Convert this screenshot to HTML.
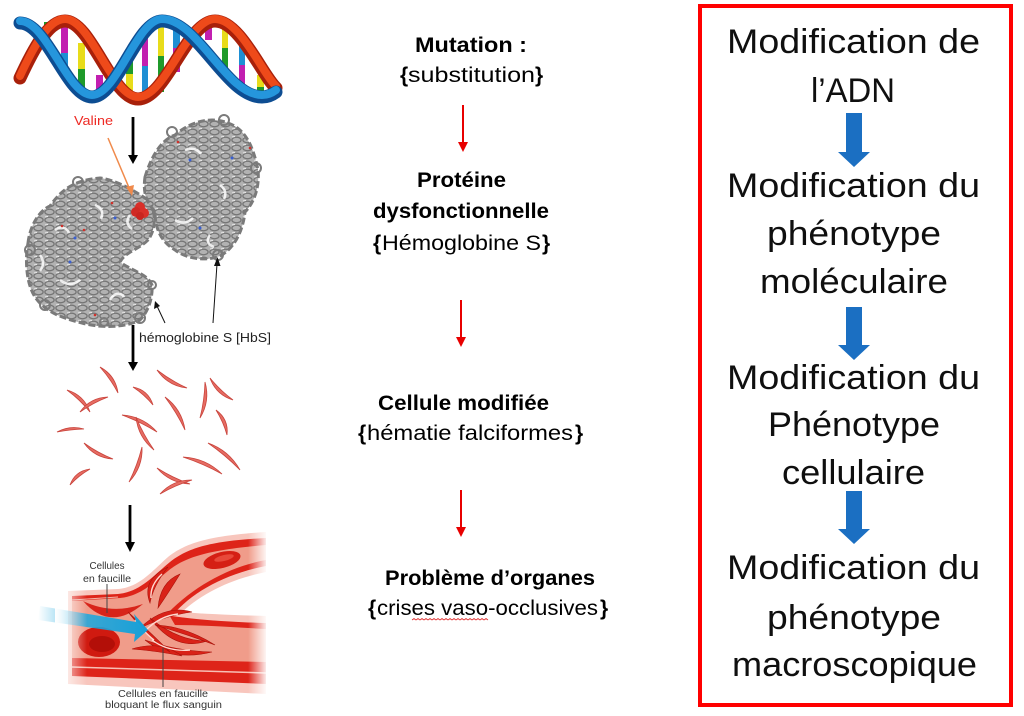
<!DOCTYPE html>
<html><head><meta charset="utf-8"><style>
html,body{margin:0;padding:0;background:#fff;}
svg{display:block;}
text{font-family:"Liberation Sans",Arial,sans-serif;}
</style></head><body>
<svg width="1024" height="716" viewBox="0 0 1024 716" xmlns="http://www.w3.org/2000/svg">
<defs>
<pattern id="rib" width="11" height="8" patternUnits="userSpaceOnUse">
<rect width="11" height="8" fill="#b2b2b2"/>
<ellipse cx="5.5" cy="4" rx="4.6" ry="2.8" fill="none" stroke="#757575" stroke-width="1.3"/>
<path d="M1,1 L4,0.5" stroke="#ececec" stroke-width="1"/>
</pattern>
<linearGradient id="blueg" x1="38" y1="0" x2="148" y2="0" gradientUnits="userSpaceOnUse">
<stop offset="0" stop-color="#1aa8df" stop-opacity="0"/>
<stop offset="0.45" stop-color="#1aa8df" stop-opacity="0.85"/>
<stop offset="1" stop-color="#159fd8"/>
</linearGradient>
<linearGradient id="fadeL" x1="0" y1="0" x2="1" y2="0">
<stop offset="0" stop-color="#fff" stop-opacity="1"/>
<stop offset="1" stop-color="#fff" stop-opacity="0"/>
</linearGradient>
<linearGradient id="fadeR" x1="0" y1="0" x2="1" y2="0">
<stop offset="0" stop-color="#fff" stop-opacity="0"/>
<stop offset="1" stop-color="#fff" stop-opacity="1"/>
</linearGradient>
</defs>

<rect width="1024" height="716" fill="#fff"/>

<!-- ============ DNA ============ -->
<g>
<rect x="44" y="22" width="6" height="14" fill="#1f9a2a"/><rect x="44" y="36" width="6" height="11" fill="#e8dc1a"/>
<rect x="61" y="25" width="7" height="28" fill="#c21fb0"/><rect x="61" y="53" width="7" height="22" fill="#1e8fd4"/>
<rect x="78" y="43" width="7" height="26" fill="#e8dc1a"/><rect x="78" y="69" width="7" height="26" fill="#1f9a2a"/>
<rect x="96" y="75" width="7" height="20" fill="#c21fb0"/>
<rect x="126" y="52" width="7" height="22" fill="#1f9a2a"/><rect x="126" y="74" width="7" height="18" fill="#e8dc1a"/>
<rect x="142" y="32" width="6" height="34" fill="#c21fb0"/><rect x="142" y="66" width="6" height="32" fill="#1e8fd4"/>
<rect x="158" y="20" width="6" height="36" fill="#e8dc1a"/><rect x="158" y="56" width="6" height="36" fill="#1f9a2a"/>
<rect x="173" y="28" width="7" height="20" fill="#1e8fd4"/><rect x="173" y="48" width="7" height="24" fill="#c21fb0"/>
<rect x="205" y="20" width="7" height="20" fill="#c21fb0"/>
<rect x="222" y="22" width="6" height="26" fill="#e8dc1a"/><rect x="222" y="48" width="6" height="24" fill="#1f9a2a"/>
<rect x="239" y="43" width="6" height="22" fill="#1e8fd4"/><rect x="239" y="65" width="6" height="25" fill="#c21fb0"/>
<rect x="257" y="75" width="7" height="12" fill="#e8dc1a"/><rect x="257" y="87" width="7" height="8" fill="#1f9a2a"/>
<path d="M20,78 C33,50 48,21 65,21 C91,21 112,99 138,99 C166,99 187,21 215,21 C240,21 262,75 276,88" fill="none" stroke="#a8200a" stroke-width="13" stroke-linecap="round"/>
<path d="M20,76 C33,48 48,19 65,19 C91,19 112,97 138,97 C166,97 187,19 215,19 C240,19 262,73 276,86" fill="none" stroke="#ee4a1a" stroke-width="8" stroke-linecap="round"/>
<path d="M20,23 C47,23 67,97 92,97 C117,97 137,21 162,21 C198,21 226,97 262,97 C268,97 272,95 276,92" fill="none" stroke="#0d4d92" stroke-width="13" stroke-linecap="round"/>
<path d="M20,21 C47,21 67,95 92,95 C117,95 137,19 162,19 C198,19 226,95 262,95 C268,95 272,93 276,90" fill="none" stroke="#2596dc" stroke-width="8" stroke-linecap="round"/>
</g>

<!-- ============ Protein ============ -->
<text x="74" y="125" font-size="12.5" fill="#ee2a24" textLength="39" lengthAdjust="spacingAndGlyphs">Valine</text>
<g>
<path d="M28,243 C30,225 40,210 50,206 C60,192 72,180 100,178 C115,180 130,188 148,200 C156,210 157,228 148,240 C138,250 125,252 120,262 C130,270 148,274 152,285 C153,298 148,312 140,320 C125,328 100,328 82,323 C62,318 45,312 35,297 C26,283 25,260 28,243 Z" fill="url(#rib)" stroke="#7a7a7a" stroke-width="3" stroke-dasharray="7 3"/>
<path d="M145,177 C150,160 160,140 175,135 C190,122 210,116 228,123 C242,128 252,140 258,170 C260,190 252,205 245,212 C243,230 235,248 220,256 C205,262 185,258 175,250 C162,242 155,230 155,212 C150,205 142,198 145,177 Z" fill="url(#rib)" stroke="#7a7a7a" stroke-width="3" stroke-dasharray="7 3"/>
<g fill="none" stroke="#fff" stroke-width="2.5" opacity="0.85">
<path d="M55,230 q8,-6 14,2"/><path d="M95,205 q10,4 6,14"/><path d="M60,280 q10,8 20,0"/><path d="M110,300 q6,-10 14,-4"/>
<path d="M185,150 q10,-4 16,4"/><path d="M220,185 q8,6 4,14"/><path d="M175,220 q10,6 18,-2"/><path d="M210,235 q-6,8 4,12"/>
<path d="M40,255 q6,8 0,16"/><path d="M130,215 q-6,8 2,14"/>
</g>
<g fill="none" stroke="#7b7b7b" stroke-width="2">
<circle cx="30" cy="250" r="5"/><circle cx="45" cy="305" r="5"/><circle cx="140" cy="318" r="5"/><circle cx="152" cy="285" r="4"/>
<circle cx="172" cy="132" r="5"/><circle cx="224" cy="120" r="5"/><circle cx="256" cy="168" r="5"/><circle cx="218" cy="255" r="5"/>
<circle cx="78" cy="182" r="5"/><circle cx="104" cy="322" r="4"/>
</g>
<g fill="#3a5fd0"><circle cx="75" cy="238" r="1.5"/><circle cx="70" cy="262" r="1.5"/><circle cx="190" cy="160" r="1.5"/><circle cx="232" cy="158" r="1.5"/><circle cx="200" cy="228" r="1.5"/><circle cx="115" cy="218" r="1.5"/></g>
<g fill="#d0302a"><circle cx="62" cy="226" r="1.3"/><circle cx="84" cy="230" r="1.3"/><circle cx="178" cy="142" r="1.3"/><circle cx="250" cy="148" r="1.3"/><circle cx="95" cy="315" r="1.3"/><circle cx="112" cy="203" r="1.3"/></g>
<circle cx="140" cy="207" r="5" fill="#d9302a"/><circle cx="136" cy="212" r="5" fill="#d02a24"/><circle cx="144" cy="213" r="5" fill="#d9302a"/><circle cx="140" cy="216" r="4" fill="#c82520"/>
</g>
<!-- protein arrows -->
<line x1="108" y1="138" x2="130" y2="190" stroke="#f08a4b" stroke-width="1.5"/>
<polygon points="132,196 126,187 134,185" fill="#f08a4b"/>
<line x1="133" y1="117" x2="133" y2="157" stroke="#000" stroke-width="2.8"/>
<polygon points="128,155 138,155 133,164" fill="#000"/>
<line x1="165" y1="323" x2="157" y2="306" stroke="#111" stroke-width="1"/>
<polygon points="155,301 154,309 160,306" fill="#111"/>
<line x1="213" y1="323" x2="217" y2="264" stroke="#111" stroke-width="1"/>
<polygon points="217.5,257 214,266 220.5,266" fill="#111"/>
<text x="139" y="342" font-size="12.5" fill="#222" textLength="132" lengthAdjust="spacingAndGlyphs">hémoglobine S [HbS]</text>
<line x1="133" y1="325" x2="133" y2="364" stroke="#000" stroke-width="2.8"/>
<polygon points="128,362 138,362 133,371" fill="#000"/>

<!-- ============ Sickle cells ============ -->
<g fill="#e66c63" stroke="#c9443c" stroke-width="0.8">
<path d="M100,367 Q115.6,375.4 118,393 Q110.6,378.9 100,367 Z"/>
<path d="M67,390 Q84,395 90,412 Q79.9,399.6 67,390 Z"/>
<path d="M80,412 Q90.2,397.5 108,397 Q93.1,402.7 80,412 Z"/>
<path d="M133,387 Q148.4,390 153,405 Q144.3,394.5 133,387 Z"/>
<path d="M157,370 Q168,386 187,388 Q171,380.7 157,370 Z"/>
<path d="M165,397 Q181.9,409.3 185,430 Q176.7,412.5 165,397 Z"/>
<path d="M205,382 Q210.4,401 200,418 Q204.5,400.3 205,382 Z"/>
<path d="M210,378 Q216,394.8 233,400 Q220.1,390.4 210,378 Z"/>
<path d="M216,410 Q228.9,419.3 227,435 Q223.3,421.7 216,410 Z"/>
<path d="M57,432 Q70,425 84,429 Q70.4,429.5 57,432 Z"/>
<path d="M122,415 Q143,416.3 157,432 Q140.4,421.7 122,415 Z"/>
<path d="M136,417 Q138,437.3 154,450 Q143.2,434.5 136,417 Z"/>
<path d="M84,443 Q94.7,458 113,459 Q97.5,452.8 84,443 Z"/>
<path d="M142,447 Q143,467 129,482 Q137.4,465.2 142,447 Z"/>
<path d="M90,469 Q75,471 70,485 Q78.8,475.4 90,469 Z"/>
<path d="M157,468 Q170,483.2 190,484 Q172.6,477.8 157,468 Z"/>
<path d="M160,494 Q172.8,479.6 192,480 Q175.2,485.2 160,494 Z"/>
<path d="M183,457 Q205.7,458.1 222,474 Q203.3,463.7 183,457 Z"/>
<path d="M208,443 Q229,450.4 240,470 Q225.3,455 208,443 Z"/>
</g>
<line x1="130" y1="505" x2="130" y2="544" stroke="#000" stroke-width="2.8"/>
<polygon points="125,542 135,542 130,552" fill="#000"/>

<!-- ============ Vessel ============ -->
<g>
<path d="M68,591 L118,589 C140,587 152,571 168,557 C185,544 205,536 266,532 L266,694 L68,684 Z" fill="#f8c6bd"/>
<path d="M72,596 L118,594 C140,592 153,576 170,562 C187,549 207,541 266,538 L266,684 L72,676 Z" fill="#de2419"/>
<path d="M72,601 L120,598 C140,596 152,584 168,571 C184,558 205,550 266,545 L266,560 C232,566 195,585 168,613 L175,625 C200,625 230,627 266,629 L266,662 L72,658 Z" fill="#f09c8a"/>
<path d="M172,616 C192,592 225,574 266,566 L266,623 C230,622 198,620 172,616 Z" fill="#f7c4ba"/>
<path d="M182,612 C204,592 232,579 266,572 L266,616 C232,615 205,614 182,612 Z" fill="#fff"/>
<path d="M72,667 L266,673" stroke="#f7c0b5" stroke-width="1.5"/>
<path d="M72,600 L118,597" stroke="#f4b2a6" stroke-width="1"/>
<!-- cells -->
<ellipse cx="222" cy="560" rx="19" ry="8" transform="rotate(-14 222 560)" fill="#d51f14"/>
<ellipse cx="224" cy="558" rx="10" ry="3" transform="rotate(-14 224 558)" fill="#e8493a"/>
<path d="M83,601 Q110,632 143,604 Q112,615 83,601 Z" fill="#d8241a"/>
<ellipse cx="99" cy="642" rx="21" ry="15" fill="#d01a10"/>
<ellipse cx="102" cy="644" rx="13" ry="8" fill="#b30f08"/>
<g fill="#d92218" stroke="#a8120a" stroke-width="0.6">
<path d="M150,603 Q141,580 168,567 Q153,586 150,603 Z"/>
<path d="M158,608 Q160,582 180,574 Q169,592 158,608 Z"/>
<path d="M140,628 Q165,604 192,612 Q168,615 140,628 Z"/>
<path d="M150,618 Q175,652 207,641 Q178,641 150,618 Z"/>
<path d="M145,640 Q172,662 212,652 Q176,651 145,640 Z"/>
<path d="M132,649 Q160,640 182,656 Q158,651 132,649 Z"/>
<path d="M155,625 Q185,626 215,645 Q186,634 155,625 Z"/>
<path d="M128,612 Q150,640 170,652 Q150,632 128,612 Z"/>
</g>
<g stroke="#ffd9d0" stroke-width="1.4" fill="none">
<path d="M151,598 Q150,585 162,574"/><path d="M146,630 Q160,616 178,614"/><path d="M152,640 Q168,652 190,650"/><path d="M135,620 Q146,634 154,640"/>
</g>
<path d="M40,606 L136,622 L134,614 L148,630 L134,642 L135,634 L38,620 Z" fill="url(#blueg)"/>
<rect x="55" y="585" width="32" height="105" fill="url(#fadeL)"/>
<rect x="248" y="528" width="20" height="170" fill="url(#fadeR)"/>
<line x1="107" y1="584" x2="107" y2="613" stroke="#444" stroke-width="1"/>
<line x1="163" y1="648" x2="163" y2="687" stroke="#444" stroke-width="1"/>
<text x="107" y="569" font-size="10" fill="#333" text-anchor="middle" textLength="35" lengthAdjust="spacingAndGlyphs">Cellules</text>
<text x="107" y="582" font-size="10" fill="#333" text-anchor="middle" textLength="48" lengthAdjust="spacingAndGlyphs">en faucille</text>
<text x="118" y="697" font-size="10" fill="#333" textLength="90" lengthAdjust="spacingAndGlyphs">Cellules en faucille</text>
<text x="105" y="708" font-size="10" fill="#333" textLength="117" lengthAdjust="spacingAndGlyphs">bloquant le flux sanguin</text>
</g>

<!-- ============ Middle column ============ -->
<g fill="#000" font-size="21">
<text x="415" y="52" font-weight="bold" textLength="112" lengthAdjust="spacingAndGlyphs">Mutation :</text>
<text x="400" y="82" font-weight="bold">{</text>
<text x="408" y="82" textLength="127" lengthAdjust="spacingAndGlyphs">substitution</text>
<text x="535" y="82" font-weight="bold">}</text>

<text x="417" y="187" font-weight="bold" textLength="89" lengthAdjust="spacingAndGlyphs">Protéine</text>
<text x="373" y="218" font-weight="bold" textLength="176" lengthAdjust="spacingAndGlyphs">dysfonctionnelle</text>
<text x="373" y="250" font-weight="bold">{</text>
<text x="382" y="250" textLength="159" lengthAdjust="spacingAndGlyphs">Hémoglobine S</text>
<text x="542" y="250" font-weight="bold">}</text>

<text x="378" y="410" font-weight="bold" textLength="171" lengthAdjust="spacingAndGlyphs">Cellule modifiée</text>
<text x="358" y="440" font-weight="bold">{</text>
<text x="367" y="440" textLength="206" lengthAdjust="spacingAndGlyphs">hématie falciformes</text>
<text x="575" y="440" font-weight="bold">}</text>

<text x="385" y="585" font-weight="bold" textLength="210" lengthAdjust="spacingAndGlyphs">Problème d’organes</text>
<text x="368" y="615" font-weight="bold">{</text>
<text x="377" y="615" textLength="221" lengthAdjust="spacingAndGlyphs">crises vaso-occlusives</text>
<text x="600" y="615" font-weight="bold">}</text>
</g>
<path d="M412,620 l2,-1.5 l2,1.5 l2,-1.5 l2,1.5 l2,-1.5 l2,1.5 l2,-1.5 l2,1.5 l2,-1.5 l2,1.5 l2,-1.5 l2,1.5 l2,-1.5 l2,1.5 l2,-1.5 l2,1.5 l2,-1.5 l2,1.5 l2,-1.5 l2,1.5 l2,-1.5 l2,1.5 l2,-1.5 l2,1.5 l2,-1.5 l2,1.5 l2,-1.5 l2,1.5 l2,-1.5 l2,1.5 l2,-1.5 l2,1.5 l2,-1.5 l2,1.5 l2,-1.5 l2,1.5 l2,-1.5 l2,1.5" fill="none" stroke="#e03030" stroke-width="0.8"/>

<!-- red arrows -->
<g fill="#e80000" stroke="#e80000">
<line x1="463" y1="105" x2="463" y2="144" stroke-width="2"/>
<polygon points="458,142 468,142 463,152" stroke="none"/>
<line x1="461" y1="300" x2="461" y2="339" stroke-width="2"/>
<polygon points="456,337 466,337 461,347" stroke="none"/>
<line x1="461" y1="490" x2="461" y2="529" stroke-width="2"/>
<polygon points="456,527 466,527 461,537" stroke="none"/>
</g>

<!-- ============ Right box ============ -->
<rect x="700" y="6" width="311" height="699" fill="none" stroke="#ff0000" stroke-width="4"/>
<g fill="#0f0f0f" font-size="34">
<text x="727" y="53" textLength="253" lengthAdjust="spacingAndGlyphs">Modification de</text>
<text x="811" y="102" textLength="84" lengthAdjust="spacingAndGlyphs">l’ADN</text>
<text x="727" y="197" textLength="253" lengthAdjust="spacingAndGlyphs">Modification du</text>
<text x="767" y="245" textLength="174" lengthAdjust="spacingAndGlyphs">phénotype</text>
<text x="760" y="293" textLength="188" lengthAdjust="spacingAndGlyphs">moléculaire</text>
<text x="727" y="389" textLength="253" lengthAdjust="spacingAndGlyphs">Modification du</text>
<text x="768" y="436" textLength="172" lengthAdjust="spacingAndGlyphs">Phénotype</text>
<text x="782" y="484" textLength="143" lengthAdjust="spacingAndGlyphs">cellulaire</text>
<text x="727" y="579" textLength="253" lengthAdjust="spacingAndGlyphs">Modification du</text>
<text x="767" y="629" textLength="174" lengthAdjust="spacingAndGlyphs">phénotype</text>
<text x="732" y="676" textLength="245" lengthAdjust="spacingAndGlyphs">macroscopique</text>
</g>
<g fill="#1b6fc2">
<polygon points="846,113 862,113 862,152 870,152 854,167 838,152 846,152"/>
<polygon points="846,307 862,307 862,345 870,345 854,360 838,345 846,345"/>
<polygon points="846,491 862,491 862,529 870,529 854,544 838,529 846,529"/>
</g>
</svg>
</body></html>
